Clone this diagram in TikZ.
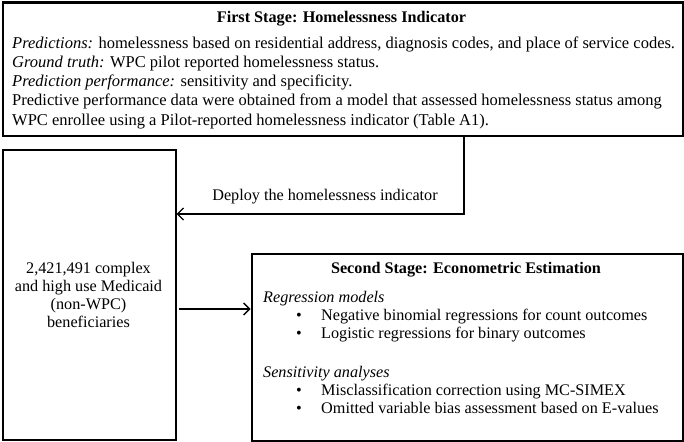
\documentclass[tikz,border=0pt]{standalone}
\usepackage{fontspec}
\setmainfont{Liberation Serif}
\usetikzlibrary{arrows.meta}
\begin{document}
\begin{tikzpicture}[x=1pt,y=-1pt,
  txt/.style={inner sep=0pt, anchor=base west, font=\fontsize{16.2}{19}\selectfont},
  ctxt/.style={inner sep=0pt, anchor=base, font=\fontsize{16.2}{19}\selectfont},
  toptxt/.style={txt, font=\fontsize{16.5}{19}\selectfont},
  thickbox/.style={draw, line width=2.6pt, inner sep=0pt, anchor=north west},
  thinbox/.style={draw, line width=1.6pt, inner sep=0pt, anchor=north west},
  conn/.style={draw, line width=1.3pt, -{Straight Barb[length=6pt,width=12pt,line width=1.3pt]}}]
\useasboundingbox (0,0) rectangle (684,441);
% boxes
\node[thickbox, minimum width=680pt, minimum height=133pt] (first) at (1.5,1.5) {};
\node[thinbox, minimum width=173pt, minimum height=290pt] (pop) at (2,149) {};
\node[thickbox, minimum width=431pt, minimum height=187pt] (second) at (250.5,252.5) {};
% first stage text
\node[ctxt] (t1) at (341.5,23) {\bfseries First Stage: Homelessness Indicator};
\node[toptxt] (l1) at (12,49) {\itshape Predictions:\upshape{} homelessness based on residential address, diagnosis codes, and place of service codes.};
\node[toptxt] (l2) at (12,68) {\itshape Ground truth:\upshape{} WPC pilot reported homelessness status.};
\node[toptxt] (l3) at (12,87) {\itshape Prediction performance:\upshape{} sensitivity and specificity.};
\node[toptxt] (l4) at (12,106) {Predictive performance data were obtained from a model that assessed homelessness status among};
\node[toptxt] (l5) at (12,125) {WPC enrollee using a Pilot-reported homelessness indicator (Table A1).};
% population text
\node[ctxt] (p1) at (88.5,273) {2,421,491 complex};
\node[ctxt] (p2) at (88.5,291) {and high use Medicaid};
\node[ctxt] (p3) at (88.5,309) {(non-WPC)};
\node[ctxt] (p4) at (88.5,327) {beneficiaries};
% second stage text
\node[ctxt] (t2) at (466,273) {\bfseries Second Stage: Econometric Estimation};
\node[txt] (h1) at (263,302) {\itshape Regression models};
\node[txt] (b1d) at (296,320) {\textbullet};
\node[txt] (b1) at (321,320) {Negative binomial regressions for count outcomes};
\node[txt] (b2d) at (296,338) {\textbullet};
\node[txt] (b2) at (321,338) {Logistic regressions for binary outcomes};
\node[txt] (h2) at (263,377) {\itshape Sensitivity analyses};
\node[txt] (b3d) at (296,395) {\textbullet};
\node[txt] (b3) at (321,395) {Misclassification correction using MC-SIMEX};
\node[txt] (b4d) at (296,413) {\textbullet};
\node[txt] (b4) at (321,413) {Omitted variable bias assessment based on E-values};
% connectors
\coordinate (d1) at (464,214);
\coordinate (d2) at (0,309);
\draw[conn] (first.south -| d1) |- (pop.east |- d1);
\node[ctxt] (deploy) at (325,200) {Deploy the homelessness indicator};
\draw[conn, shorten <=2pt] (pop.east |- d2) -- (second.west |- d2);
\end{tikzpicture}
\end{document}
